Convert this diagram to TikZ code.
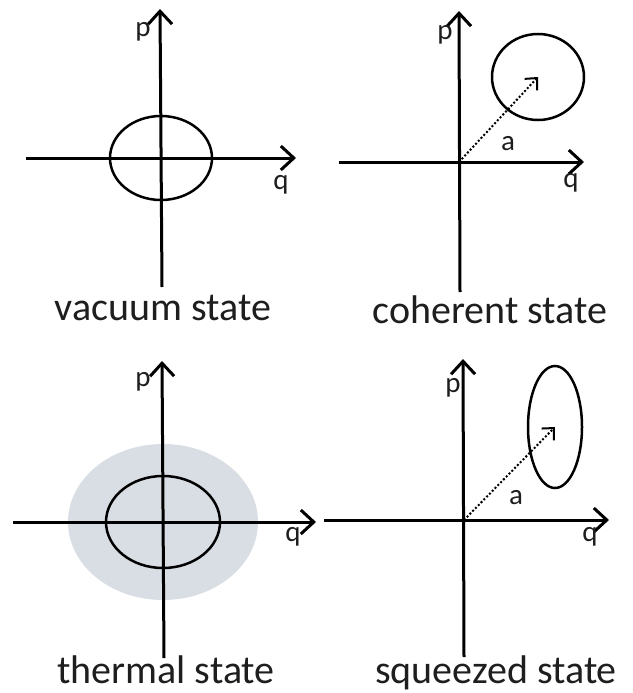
\documentclass[tikz,border=0pt]{standalone}
\usepackage{fontspec}
\setmainfont{Carlito}
\usetikzlibrary{arrows.meta}

\definecolor{wignergray}{RGB}{217,222,228}
\definecolor{inkblack}{RGB}{30,30,30}

\begin{document}
\begin{tikzpicture}[
    x=1pt, y=-1pt,
    every node/.style={text=inkblack, inner sep=0pt},
    % Stijl voor de assen (q en p)
    axis/.style={draw=black, line width=3pt, -{Straight Barb[length=13pt, width=24pt, line width=3pt]}},
    % Stijl voor de onzekerheidsgebieden
    blob/.style={draw=black, line width=2.5pt},
    % Stijl voor de verplaatsing alpha
    displacement/.style={draw=black, line width=2pt, dotted, -{Straight Barb[length=9pt, width=17pt, line width=2pt]}},
    axlabel/.style={font=\fontsize{29}{34}\selectfont, anchor=base},
    caption/.style={font=\fontsize{40}{46}\selectfont, anchor=base}
]
\useasboundingbox (0,0) rectangle (632,693);

% --- Paneel 1: Vacuum ---
\coordinate (v0) at (161,158);
\coordinate (vleft) at (26,158);
\coordinate (vright) at (296,158);
\coordinate (vtop) at (160,9);
\coordinate (vbot) at (162,287);
\draw[blob] (v0) ellipse [x radius=51, y radius=42];
\draw[axis] (vleft) -- (vright);
\draw[axis] (vbot) -- (vtop);
\node[axlabel] (vp) at (143,37) {p};
\node[axlabel] (vq) at (281,189) {q};
\node[caption] (vcap) at (163,320) {vacuum state};

% --- Paneel 2: Coherent ---
\coordinate (c0) at (459,162);
\coordinate (cleft) at (339,162);
\coordinate (cright) at (584,162);
\coordinate (ctop) at (459,11);
\coordinate (cbot) at (460,292);
\coordinate (cmid) at (538,77);
\draw[blob] (cmid) ellipse [x radius=46, y radius=43];
\draw[axis] (cleft) -- (cright);
\draw[axis] (cbot) -- (ctop);
\draw[displacement] (c0) -- (cmid);
\node[axlabel] (cp) at (445,40) {p};
\node[axlabel] (cq) at (571,187) {q};
\node[axlabel] (ca) at (508,150) {a};
\node[caption] (ccap) at (490,323) {coherent state};

% --- Paneel 3: Thermal ---
\coordinate (t0) at (163,522);
\coordinate (tleft) at (13,522);
\coordinate (tright) at (316,522);
\coordinate (ttop) at (162,361);
\coordinate (tbot) at (164,658);
\fill[wignergray] (t0) ellipse [x radius=95, y radius=78];
\draw[blob] (t0) ellipse [x radius=57, y radius=46];
\draw[axis] (tleft) -- (tright);
\draw[axis] (tbot) -- (ttop);
\node[axlabel] (tp) at (143,386) {p};
\node[axlabel] (tq) at (293,541) {q};
\node[caption] (tcap) at (166,683) {thermal state};

% --- Paneel 4: Squeezed ---
\coordinate (s0) at (464,520);
\coordinate (sleft) at (324,520);
\coordinate (sright) at (609,520);
\coordinate (stop) at (463,359);
\coordinate (sbot) at (464,657);
\coordinate (smid) at (555,427);
\draw[blob] (smid) ellipse [x radius=27, y radius=61];
\draw[axis] (sleft) -- (sright);
\draw[axis] (sbot) -- (stop);
\draw[displacement] (s0) -- (smid);
\node[axlabel] (sp) at (453,392) {p};
\node[axlabel] (sq) at (590,541) {q};
\node[axlabel] (sa) at (516,504) {a};
\node[caption] (scap) at (496,683) {squeezed state};

\end{tikzpicture}
\end{document}
